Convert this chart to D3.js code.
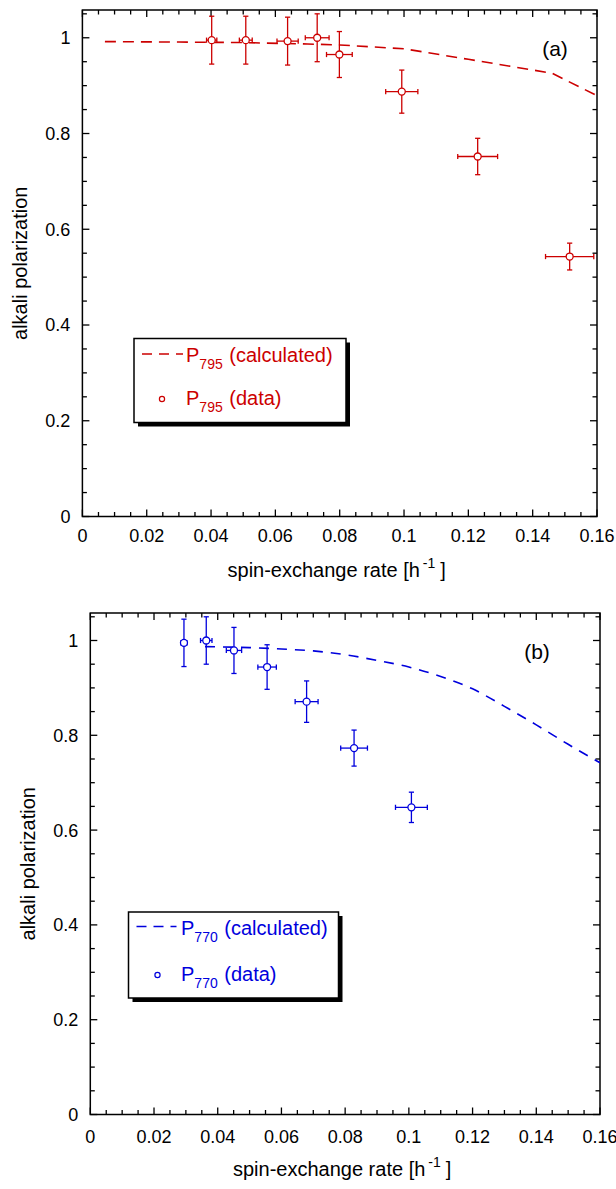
<!DOCTYPE html>
<html>
<head>
<meta charset="utf-8">
<script src="https://cdn.jsdelivr.net/npm/d3@7"></script>
<style>
  html, body { margin: 0; padding: 0; background: #fff; }
  svg { display: block; font-family: "Liberation Sans", Arial, Helvetica, sans-serif; }
</style>
</head>
<body>
<svg id="chart" width="616" height="1189"></svg>
<script>
// ---------- data ----------
const xTickValues = [0, 0.02, 0.04, 0.06, 0.08, 0.1, 0.12, 0.14, 0.16];
const xTickLabels = ["0", "0.02", "0.04", "0.06", "0.08", "0.1", "0.12", "0.14", "0.16"];
const yTickValues = [0, 0.2, 0.4, 0.6, 0.8, 1];
const yTickLabels = ["0", "0.2", "0.4", "0.6", "0.8", "1"];

// panel (a): 795 nm
const rate795 = [0.0402, 0.0508, 0.0638, 0.0730, 0.0799, 0.0993, 0.1229, 0.1515];
const pol795 = [0.995, 0.995, 0.993, 1.000, 0.965, 0.8875, 0.752, 0.543];
const rateErr795 = [0.0016, 0.0020, 0.0033, 0.0037, 0.0040, 0.0050, 0.0062, 0.0075];
const polErr795 = [0.050, 0.050, 0.050, 0.050, 0.048, 0.045, 0.038, 0.028];
const calcRate795 = [0.007, 0.03, 0.05, 0.07, 0.08, 0.09, 0.10, 0.12, 0.146, 0.16];
const calcPol795 = [0.992, 0.991, 0.990, 0.987, 0.985, 0.981, 0.977, 0.955, 0.926, 0.879];

// panel (b): 770 nm
const rate770 = [0.0294, 0.0364, 0.0451, 0.0555, 0.0679, 0.0828, 0.1008];
const pol770 = [0.995, 1.000, 0.979, 0.944, 0.871, 0.773, 0.648];
const rateErr770 = [0.0010, 0.0018, 0.0024, 0.0029, 0.0036, 0.0042, 0.0050];
const polErr770 = [0.050, 0.050, 0.0486, 0.047, 0.0437, 0.038, 0.032];
const calcRate770 = [0.036, 0.05, 0.06, 0.07, 0.08, 0.09, 0.10, 0.11, 0.12, 0.13, 0.14, 0.15, 0.16];
const calcPol770 = [0.987, 0.985, 0.982, 0.978, 0.970, 0.958, 0.944, 0.924, 0.898, 0.861, 0.822, 0.781, 0.742];

const xTitle = "spin-exchange rate [h";
const yTitle = "alkali polarization";

// ---------- drawing ----------
const svg = d3.select("#chart");

function drawPanel(cfg) {
  const x = d3.scaleLinear().domain([0, 0.16]).range([cfg.left, cfg.right]);
  const y = d3.scaleLinear().domain([0, 1.058]).range([cfg.bottom, cfg.top]);
  const g = svg.append("g");
  const color = cfg.color;

  const xMinor = d3.range(0, 0.1601, 0.005).filter(v => Math.abs(Math.round(v / 0.02) * 0.02 - v) > 1e-6);
  const yMinor = d3.range(0, 1.0501, 0.05).filter(v => Math.abs(Math.round(v / 0.2) * 0.2 - v) > 1e-6);
  const majL = 7, minL = 4.5;

  const axisG = g.append("g").attr("stroke", "#000").attr("stroke-width", 1.3);
  xTickValues.forEach(v => {
    axisG.append("line").attr("x1", x(v)).attr("x2", x(v)).attr("y1", y.range()[0]).attr("y2", y.range()[0] - majL);
    axisG.append("line").attr("x1", x(v)).attr("x2", x(v)).attr("y1", y.range()[1]).attr("y2", y.range()[1] + majL);
  });
  xMinor.forEach(v => {
    axisG.append("line").attr("x1", x(v)).attr("x2", x(v)).attr("y1", y.range()[0]).attr("y2", y.range()[0] - minL);
    axisG.append("line").attr("x1", x(v)).attr("x2", x(v)).attr("y1", y.range()[1]).attr("y2", y.range()[1] + minL);
  });
  yTickValues.forEach(v => {
    axisG.append("line").attr("x1", cfg.left).attr("x2", cfg.left + majL).attr("y1", y(v)).attr("y2", y(v));
    axisG.append("line").attr("x1", cfg.right).attr("x2", cfg.right - majL).attr("y1", y(v)).attr("y2", y(v));
  });
  yMinor.forEach(v => {
    axisG.append("line").attr("x1", cfg.left).attr("x2", cfg.left + minL).attr("y1", y(v)).attr("y2", y(v));
    axisG.append("line").attr("x1", cfg.right).attr("x2", cfg.right - minL).attr("y1", y(v)).attr("y2", y(v));
  });
  g.append("rect")
    .attr("x", cfg.left).attr("y", cfg.top)
    .attr("width", cfg.right - cfg.left).attr("height", cfg.bottom - cfg.top)
    .attr("fill", "none").attr("stroke", "#000").attr("stroke-width", 1.5);

  // tick labels
  g.append("g").selectAll("text").data(xTickValues).join("text")
    .attr("x", d => x(d)).attr("y", cfg.bottom + cfg.xLabelDy)
    .attr("text-anchor", "middle").attr("font-size", 18).attr("fill", "#000")
    .text((d, i) => xTickLabels[i]);
  g.append("g").selectAll("text").data(yTickValues).join("text")
    .attr("x", cfg.left - 12).attr("y", d => y(d)).attr("dy", "0.36em")
    .attr("text-anchor", "end").attr("font-size", 18).attr("fill", "#000")
    .text((d, i) => yTickLabels[i]);

  // axis titles
  const xt = g.append("text")
    .attr("x", (cfg.left + cfg.right) / 2 - 3).attr("y", cfg.bottom + cfg.xTitleDy)
    .attr("text-anchor", "middle").attr("font-size", 20).attr("fill", "#000");
  xt.append("tspan").text(xTitle);
  xt.append("tspan").attr("font-size", 14).attr("dy", -9).attr("dx", 3).text("-1");
  xt.append("tspan").attr("dy", 9).attr("dx", 5).text("]");

  g.append("text")
    .attr("transform", `translate(${cfg.left - 55},${(cfg.top + cfg.bottom) / 2}) rotate(-90)`)
    .attr("text-anchor", "middle").attr("font-size", 20).attr("fill", "#000")
    .text(yTitle);

  // panel tag
  g.append("text").attr("x", cfg.tagX).attr("y", cfg.tagY)
    .attr("text-anchor", "middle").attr("font-size", 21).attr("fill", "#000").text(cfg.tag);

  const clipId = "clip" + cfg.tag.replace(/\W/g, "");
  svg.append("clipPath").attr("id", clipId).append("rect")
    .attr("x", cfg.left).attr("y", cfg.top).attr("width", cfg.right - cfg.left).attr("height", cfg.bottom - cfg.top);

  // calculated dashed curve
  const line = d3.line().x(d => x(d[0])).y(d => y(d[1])).curve(cfg.curve);
  const curve = cfg.calcX.map((v, i) => [v, cfg.calcY[i]]);
  g.append("path").datum(curve).attr("d", line)
    .attr("clip-path", `url(#${clipId})`)
    .attr("fill", "none").attr("stroke", color).attr("stroke-width", 1.6)
    .attr("stroke-dasharray", cfg.dash);

  // error bars
  const cap = 2.6;
  const eg = g.append("g").attr("stroke", color).attr("stroke-width", 1.3).attr("fill", "none");
  cfg.xs.forEach((xv, i) => {
    const yv = cfg.ys[i], ex = cfg.exs[i], ey = cfg.eys[i];
    eg.append("line").attr("x1", x(xv)).attr("x2", x(xv)).attr("y1", y(yv - ey)).attr("y2", y(yv + ey));
    eg.append("line").attr("x1", x(xv) - cap).attr("x2", x(xv) + cap).attr("y1", y(yv - ey)).attr("y2", y(yv - ey));
    eg.append("line").attr("x1", x(xv) - cap).attr("x2", x(xv) + cap).attr("y1", y(yv + ey)).attr("y2", y(yv + ey));
    eg.append("line").attr("x1", x(xv - ex)).attr("x2", x(xv + ex)).attr("y1", y(yv)).attr("y2", y(yv));
    eg.append("line").attr("x1", x(xv - ex)).attr("x2", x(xv - ex)).attr("y1", y(yv) - cap).attr("y2", y(yv) + cap);
    eg.append("line").attr("x1", x(xv + ex)).attr("x2", x(xv + ex)).attr("y1", y(yv) - cap).attr("y2", y(yv) + cap);
  });
  g.append("g").selectAll("circle").data(cfg.xs).join("circle")
    .attr("cx", d => x(d)).attr("cy", (d, i) => y(cfg.ys[i])).attr("r", 3.5)
    .attr("fill", "#fff").attr("stroke", color).attr("stroke-width", 1.3);

  // legend
  const L = cfg.legend;
  g.append("rect").attr("x", L.x + 4).attr("y", L.y + 4).attr("width", L.w).attr("height", L.h).attr("fill", "#000");
  g.append("rect").attr("x", L.x).attr("y", L.y).attr("width", L.w).attr("height", L.h)
    .attr("fill", "#fff").attr("stroke", "#000").attr("stroke-width", 1.5);
  g.append("line").attr("x1", L.x + L.lineX0).attr("x2", L.x + L.lineX1)
    .attr("y1", L.y + L.row1 - 8).attr("y2", L.y + L.row1 - 8)
    .attr("stroke", color).attr("stroke-width", 1.5).attr("stroke-dasharray", "10,7");
  g.append("circle").attr("cx", L.x + L.markX).attr("cy", L.y + L.row2 - 6).attr("r", 2.6)
    .attr("fill", "#fff").attr("stroke", color).attr("stroke-width", 1.2);
  [[L.row1, " (calculated)"], [L.row2, " (data)"]].forEach(([ry, label]) => {
    const t = g.append("text").attr("x", L.x + L.textX).attr("y", L.y + ry)
      .attr("font-size", 20).attr("fill", color);
    t.append("tspan").text("P");
    t.append("tspan").attr("font-size", 14).attr("dy", 7).text(cfg.sub);
    t.append("tspan").attr("dy", -7).attr("dx", 1).text(label);
  });
}

drawPanel({
  left: 82.4, right: 597, top: 10, bottom: 516.5,
  color: "#cc0000", dash: "11,7", tag: "(a)", tagX: 555, tagY: 56, sub: "795",
  curve: d3.curveLinear,
  xLabelDy: 25.5, xTitleDy: 60.5,
  xs: rate795, ys: pol795, exs: rateErr795, eys: polErr795,
  calcX: calcRate795, calcY: calcPol795,
  legend: { x: 134, y: 338.5, w: 212, h: 84, lineX0: 8, lineX1: 49, markX: 28, textX: 52, row1: 23.5, row2: 66.5 }
});

drawPanel({
  left: 90.3, right: 600, top: 613, bottom: 1114.5,
  color: "#0000dd", dash: "10,8", tag: "(b)", tagX: 537, tagY: 659, sub: "770",
  curve: d3.curveMonotoneX,
  xLabelDy: 28.5, xTitleDy: 61,
  xs: rate770, ys: pol770, exs: rateErr770, eys: polErr770,
  calcX: calcRate770, calcY: calcPol770,
  legend: { x: 128.5, y: 912, w: 210, h: 86, lineX0: 8, lineX1: 48, markX: 29, textX: 52.5, row1: 22.5, row2: 69 }
});
</script>
</body>
</html>
